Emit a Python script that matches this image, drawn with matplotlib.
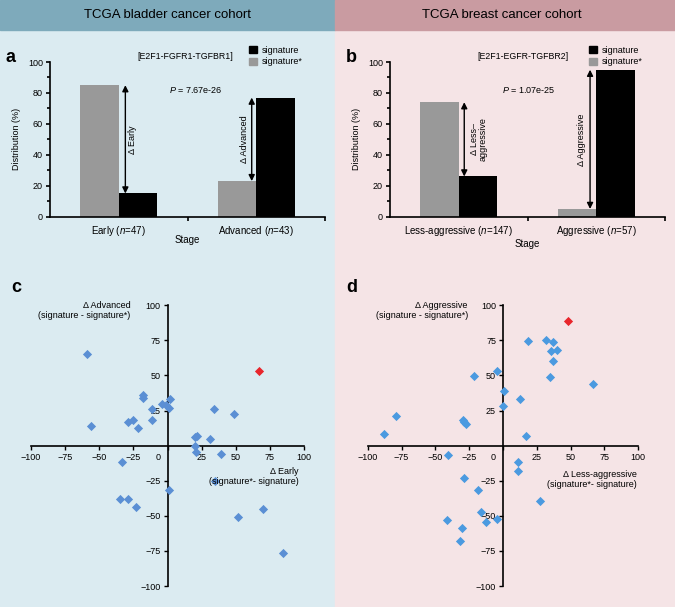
import numpy as np
import matplotlib
matplotlib.use("Agg")
import matplotlib.pyplot as plt
from matplotlib.patches import Rectangle, Patch
from matplotlib.ticker import MultipleLocator, FixedLocator
import matplotlib.transforms as mtransforms

plt.rcParams['font.family'] = ['Liberation Sans', 'DejaVu Sans']
plt.rcParams['mathtext.fontset'] = 'custom'
plt.rcParams['mathtext.it'] = 'Liberation Sans:italic'
plt.rcParams['mathtext.rm'] = 'Liberation Sans'

# ---- data ----
bladder_stages = ['Early', 'Advanced']
bladder_n = [47, 43]
bladder_sig = [15, 77]
bladder_sig_star = [85, 23]

breast_stages = ['Less-aggressive', 'Aggressive']
breast_n = [147, 57]
breast_sig = [26, 95]
breast_sig_star = [74, 5]

# panel c: delta early (x) vs delta advanced (y)
bladder_dx = [-59, -56, -18, -18, -11, -11, -4, -1, 1, 2, -29, -25, -21.5, 20, 21.7,
              31.5, 34, 49, 20, 21, 39.5, -33, 34.5, 1, -35, -29, -23, 52, 70, 84.5]
bladder_dy = [65, 14, 36, 34, 26, 18.5, 29.5, 29, 26.5, 33, 17, 18, 12.5, 6.5, 7,
              4.5, 26, 22.5, -0.3, -4.2, -6, -12, -25, -31.5, -38, -38, -44, -51, -45, -76.5]
bladder_best = (67, 53)

# panel d: delta less-aggressive (x) vs delta aggressive (y)
breast_dx = [18.5, 31.8, 37.2, 35.2, 39.7, 37.2, 34.5, 66.3, -4.2, -21.4, 0.7, 12.8, -0.2,
             -78.8, -87.9, -29.8, -28.6, -27.3, 17.2, -40.9, 11.1, 11.1, -28.8, -18.7,
             27.6, -16.3, -12.8, -4.7, -41.1, -30.3, -31.5]
breast_dy = [74.5, 75.4, 74.2, 67.5, 68.3, 60.6, 48.7, 43.9, 53.5, 49.6, 38.7, 33.2, 28.6,
             21, 8.4, 18.4, 16.7, 15.5, 6.9, -6.4, -11.9, -18.4, -22.7, -31.3,
             -39.6, -47.3, -54.7, -52, -53, -59, -68]
breast_best = (48.3, 88.6)

W, H = 675, 607
fig = plt.figure(figsize=(W / 100, H / 100), dpi=100)

def fx(px):
    return px / W

def fy(py):
    return 1 - py / H

# backgrounds
split = 334.5
head = 30
bg = [((0, 0), fx(split), 1, '#dbebf1'),
      ((fx(split), 0), 1 - fx(split), 1, '#f5e4e6'),
      ((0, fy(head)), fx(split), 1 - fy(head), '#7eaabb'),
      ((fx(split), fy(head)), 1 - fx(split), 1 - fy(head), '#c99ba1')]
for xy, w, h, c in bg:
    fig.patches.append(Rectangle(xy, w, h, transform=fig.transFigure, color=c, zorder=-10))

fig.text(fx(167), fy(15), 'TCGA bladder cancer cohort', ha='center', va='center', fontsize=9.5)
fig.text(fx(502), fy(15), 'TCGA breast cancer cohort', ha='center', va='center', fontsize=9.5)


def bar_panel(rect, stages, ns, sig, sig_star, gene, gene_x, pval, p_x, labels, arrow_x, label_x,
              letter, letter_pos, xlabel_pad):
    ax = fig.add_axes(rect)
    ax.set_facecolor('none')
    x = np.arange(len(stages))
    w = 0.28
    ax.bar(x - w / 2, sig_star, w, color='#999999', label='signature*')
    ax.bar(x + w / 2, sig, w, color='black', label='signature')
    ax.set_xlim(-0.5, 1.5)
    ax.set_ylim(0, 100)
    for s in ['top', 'right']:
        ax.spines[s].set_visible(False)
    for s in ['left', 'bottom']:
        ax.spines[s].set_linewidth(1.2)
    ax.yaxis.set_major_locator(MultipleLocator(20))
    ax.yaxis.set_minor_locator(MultipleLocator(10))
    ax.set_xticks(x)
    ax.set_xticklabels([f'{s} ($n$={n})' for s, n in zip(stages, ns)], fontsize=7)
    ax.xaxis.set_minor_locator(FixedLocator([0.5, 1.5]))
    ax.tick_params(axis='x', which='major', length=0, pad=5)
    ax.tick_params(axis='x', which='minor', length=3, width=1.2)
    ax.tick_params(axis='y', which='major', length=3, width=1.2, labelsize=6.5, pad=2)
    ax.tick_params(axis='y', which='minor', length=2, width=1.2)
    ax.set_ylabel('Distribution (%)', fontsize=6.5, labelpad=5)
    ax.set_xlabel('Stage', fontsize=7, labelpad=xlabel_pad)

    handles = [Patch(color='black', label='signature'), Patch(color='#999999', label='signature*')]
    ax.legend(handles=handles, loc='upper left', bbox_to_anchor=(0.71, 1.13), frameon=False,
              fontsize=6.5, handlelength=0.9, handleheight=0.8, handletextpad=0.5,
              labelspacing=0.3, borderaxespad=0)
    ax.text(gene_x, 1.035, gene, transform=ax.transAxes, ha='center', va='center', fontsize=6.3)
    ax.text(p_x, 82, f'$P$ = {pval}', ha='center', va='center', fontsize=6.5)

    for i in range(len(stages)):
        lo, hi = sorted([sig[i], sig_star[i]])
        ax.annotate('', xy=(arrow_x[i], hi), xytext=(arrow_x[i], lo),
                    arrowprops=dict(arrowstyle='<|-|>', color='black', lw=1.0,
                                    mutation_scale=9, shrinkA=0, shrinkB=0))
        ax.text(label_x[i], (lo + hi) / 2, labels[i], rotation=90, ha='center', va='center',
                fontsize=6.5, linespacing=1.0)
    fig.text(letter_pos[0], letter_pos[1], letter, fontsize=13, fontweight='bold', ha='left', va='center')
    return ax


bar_panel([fx(50), fy(216.7), fx(275), fy(62) - fy(216.7)], bladder_stages, bladder_n,
          bladder_sig, bladder_sig_star, '[E2F1-FGFR1-TGFBR1]', 0.49, '7.67e-26', 0.56,
          ['Δ Early', 'Δ Advanced'], [0.048, 0.967], [0.097, 0.915], 'a', (fx(6), fy(58)), -2)
bar_panel([fx(390), fy(216.7), fx(275), fy(62) - fy(216.7)], breast_stages, breast_n,
          breast_sig, breast_sig_star, '[E2F1-EGFR-TGFBR2]', 0.484, '1.07e-25', 0.51,
          ['Δ Less–\naggressive', 'Δ Aggressive'], [0.04, 0.955], [0.145, 0.893], 'b', (fx(346), fy(58)), 1)


def scatter_panel(rect, dx, dy, best, color, ylab, xlab, ylab_x, xlab_xy, letter, letter_pos):
    ax = fig.add_axes(rect)
    ax.set_facecolor('none')
    ax.scatter(dx, dy, marker='D', s=22, color=color, linewidths=0, zorder=3)
    ax.scatter([best[0]], [best[1]], marker='D', s=22, color='#e8262c', linewidths=0, zorder=4)
    ax.set_xlim(-100, 100)
    ax.set_ylim(-100, 100)
    for s in ['top', 'right']:
        ax.spines[s].set_visible(False)
    ax.spines['left'].set_position(('data', 0))
    ax.spines['bottom'].set_position(('data', 0))
    ax.spines['left'].set_linewidth(1.2)
    ax.spines['bottom'].set_linewidth(1.2)
    ticks = np.arange(-100, 101, 25)
    ax.set_xticks(ticks)
    ax.set_yticks([t for t in ticks if t != 0])
    ax.tick_params(length=3, width=1.0, labelsize=6.5, pad=2)
    for lab in ax.get_xticklabels():
        if lab.get_text() == '0':
            lab.set_transform(lab.get_transform() +
                              mtransforms.ScaledTranslation(-7 / 72, 0, fig.dpi_scale_trans))
    ax.text(ylab_x, 103, ylab, ha='right', va='top', fontsize=6.5, linespacing=1.1)
    ax.text(xlab_xy[0], xlab_xy[1], xlab, ha='right', va='top', fontsize=6.5, linespacing=1.15)
    fig.text(letter_pos[0], letter_pos[1], letter, fontsize=13, fontweight='bold', ha='left', va='center')
    return ax


scatter_panel([fx(31), fy(586), fx(273), fy(305.3) - fy(586)], bladder_dx, bladder_dy, bladder_best,
              '#5b8fd4', 'Δ Advanced\n(signature - signature*)', 'Δ Early\n(signature*- signature)',
              -27, (96, -15.5), 'c', (fx(11), fy(287)))
scatter_panel([fx(367.7), fy(586), fx(270.6), fy(305.3) - fy(586)], breast_dx, breast_dy, breast_best,
              '#4b9ae0', 'Δ Aggressive\n(signature - signature*)', 'Δ Less-aggressive\n(signature*- signature)',
              -26, (99, -17.5), 'd', (fx(346), fy(287)))

fig.savefig('out.png', dpi=100)
